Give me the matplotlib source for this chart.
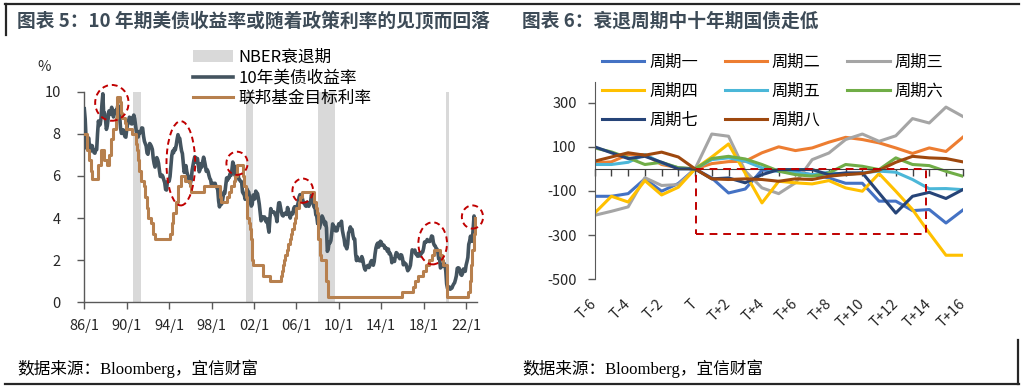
import numpy as np
import matplotlib.pyplot as plt
from matplotlib.patches import Ellipse, Rectangle, Patch
from matplotlib.lines import Line2D

plt.rcParams['font.family'] = ['Noto Sans CJK SC', 'DejaVu Sans']
plt.rcParams['axes.unicode_minus'] = False

# ---------------- left chart data ----------------
# 10y treasury yield, monthly, 1986/1 .. 2022/11
ust10 = [
    9.19, 8.70, 7.78, 7.30, 7.71, 7.80, 7.30, 7.17, 7.45, 7.43, 7.25, 7.11,
    7.08, 7.25, 7.25, 8.02, 8.61, 8.40, 8.45, 8.76, 9.42, 9.90, 8.86, 8.99,
    8.67, 8.21, 8.37, 8.72, 9.09, 8.92, 9.06, 9.26, 8.98, 8.80, 8.96, 9.11,
    9.09, 9.17, 9.36, 9.18, 8.86, 8.28, 8.02, 8.11, 8.19, 8.01, 7.87, 7.84,
    8.21, 8.47, 8.59, 8.79, 8.76, 8.48, 8.47, 8.75, 8.89, 8.72, 8.39, 8.08,
    8.09, 7.85, 8.11, 8.04, 8.07, 8.28, 8.27, 7.90, 7.65, 7.53, 7.42, 7.09,
    7.03, 7.34, 7.54, 7.48, 7.39, 7.26, 6.84, 6.59, 6.42, 6.59, 6.87, 6.77,
    6.60, 6.26, 5.98, 5.97, 6.04, 5.96, 5.81, 5.68, 5.36, 5.33, 5.72, 5.77,
    5.75, 5.97, 6.48, 6.97, 7.18, 7.10, 7.30, 7.24, 7.46, 7.74, 7.96, 7.81,
    7.78, 7.47, 7.20, 7.06, 6.63, 6.17, 6.28, 6.49, 6.20, 6.04, 5.93, 5.71,
    5.65, 5.81, 6.27, 6.51, 6.74, 6.91, 6.87, 6.64, 6.83, 6.53, 6.20, 6.30,
    6.58, 6.42, 6.69, 6.89, 6.71, 6.49, 6.22, 6.30, 6.21, 6.03, 5.88, 5.81,
    5.54, 5.57, 5.65, 5.64, 5.65, 5.50, 5.46, 5.34, 4.81, 4.53, 4.83, 4.65,
    4.72, 5.00, 5.23, 5.18, 5.54, 5.90, 5.79, 5.94, 5.92, 6.11, 6.03, 6.28,
    6.66, 6.52, 6.26, 5.99, 6.44, 6.10, 6.05, 5.83, 5.80, 5.74, 5.72, 5.24,
    5.16, 5.10, 4.89, 5.14, 5.39, 5.28, 5.24, 4.97, 4.73, 4.57, 4.65, 5.09,
    5.04, 4.91, 5.28, 5.21, 5.16, 4.93, 4.65, 4.26, 3.87, 3.94, 4.05, 4.03,
    4.05, 3.90, 3.81, 3.96, 3.57, 3.33, 3.98, 4.45, 4.27, 4.29, 4.30, 4.27,
    4.15, 4.08, 3.83, 4.35, 4.72, 4.73, 4.50, 4.28, 4.13, 4.10, 4.19, 4.23,
    4.22, 4.17, 4.50, 4.34, 4.14, 4.00, 4.18, 4.26, 4.20, 4.46, 4.54, 4.47,
    4.42, 4.57, 4.72, 4.99, 5.11, 5.11, 5.09, 4.88, 4.72, 4.73, 4.60, 4.56,
    4.76, 4.72, 4.56, 4.69, 4.75, 5.10, 5.00, 4.67, 4.52, 4.53, 4.15, 4.10,
    3.74, 3.74, 3.51, 3.68, 3.88, 4.10, 4.01, 3.89, 3.69, 3.81, 3.53, 2.42,
    2.52, 2.87, 2.82, 2.93, 3.29, 3.72, 3.56, 3.59, 3.40, 3.39, 3.40, 3.59,
    3.73, 3.69, 3.73, 3.85, 3.42, 3.20, 3.01, 2.70, 2.65, 2.54, 2.76, 3.29,
    3.39, 3.58, 3.41, 3.46, 3.17, 3.00, 3.00, 2.30, 1.98, 2.15, 2.01, 1.98,
    1.97, 1.97, 2.17, 2.05, 1.80, 1.62, 1.53, 1.68, 1.72, 1.75, 1.65, 1.72,
    1.91, 1.98, 1.96, 1.76, 1.93, 2.30, 2.58, 2.74, 2.81, 2.62, 2.72, 2.90,
    2.86, 2.71, 2.72, 2.71, 2.56, 2.60, 2.54, 2.42, 2.53, 2.30, 2.33, 2.21,
    1.88, 1.98, 2.04, 1.94, 2.20, 2.36, 2.32, 2.17, 2.17, 2.07, 2.26, 2.24,
    2.09, 1.78, 1.89, 1.81, 1.81, 1.64, 1.50, 1.56, 1.63, 1.76, 2.14, 2.49,
    2.43, 2.42, 2.48, 2.30, 2.30, 2.19, 2.32, 2.21, 2.20, 2.36, 2.35, 2.40,
    2.58, 2.86, 2.84, 2.87, 2.98, 2.91, 2.89, 2.89, 3.00, 3.15, 3.12, 2.83,
    2.71, 2.68, 2.57, 2.53, 2.40, 2.07, 2.06, 1.63, 1.70, 1.71, 1.81, 1.86,
    1.76, 1.50, 0.87, 0.66, 0.67, 0.73, 0.62, 0.65, 0.68, 0.79, 0.87, 0.93,
    1.08, 1.26, 1.61, 1.64, 1.62, 1.52, 1.32, 1.28, 1.37, 1.58, 1.56, 1.47,
    1.76, 1.93, 2.13, 2.75, 2.90, 3.14, 2.90, 2.90, 3.52, 4.10, 3.89,
]
ust_t = 1986 + np.arange(len(ust10)) / 12

# fed funds target: change dates (year fraction) and new level
ff_t = [1986.0, 1986.25, 1986.4, 1986.6, 1986.7, 1987.3, 1987.6, 1987.85, 1988.1,
        1988.3, 1988.5, 1988.7, 1988.95, 1989.1, 1989.4, 1989.5, 1989.6, 1989.8,
        1989.95, 1990.5, 1990.85, 1990.95, 1991.05, 1991.15, 1991.3, 1991.6,
        1991.75, 1991.9, 1991.97, 1992.3, 1992.5, 1992.7, 1994.1, 1994.25,
        1994.35, 1994.6, 1994.87, 1995.1, 1995.5, 1995.95, 1996.1, 1997.25,
        1998.75, 1998.8, 1998.87, 1999.5, 1999.65, 1999.87, 2000.1, 2000.2,
        2000.37, 2001.0, 2001.08, 2001.22, 2001.3, 2001.37, 2001.5, 2001.64,
        2001.7, 2001.78, 2001.85, 2001.95, 2002.85, 2003.5, 2004.5, 2004.62,
        2004.7, 2004.85, 2004.95, 2005.1, 2005.25, 2005.37, 2005.5, 2005.62,
        2005.75, 2005.87, 2006.0, 2006.25, 2006.37, 2006.5, 2007.7, 2007.83,
        2007.95, 2008.05, 2008.08, 2008.22, 2008.33, 2008.78, 2008.83, 2008.95,
        2015.96, 2016.96, 2017.2, 2017.46, 2017.96, 2018.22, 2018.46, 2018.74,
        2018.96, 2019.58, 2019.71, 2019.83, 2020.17, 2020.21, 2022.21, 2022.34,
        2022.46, 2022.57, 2022.73, 2022.84, 2022.88]
ff_rate = [8.0, 7.25, 6.75, 6.25, 5.875, 6.5, 7.25, 6.75, 6.5,
           7.0, 7.75, 8.25, 8.75, 9.75, 9.5, 9.0, 8.75, 8.5,
           8.25, 8.0, 7.5, 7.25, 6.75, 6.25, 5.75, 5.5,
           5.0, 4.5, 4.0, 3.75, 3.25, 3.0, 3.25, 3.75,
           4.25, 4.75, 5.5, 6.0, 5.75, 5.5, 5.25, 5.5,
           5.25, 5.0, 4.75, 5.0, 5.25, 5.5, 5.75, 6.0,
           6.5, 6.0, 5.5, 5.0, 4.5, 4.0, 3.75, 3.5,
           3.0, 2.5, 2.0, 1.75, 1.25, 1.0, 1.25, 1.5,
           1.75, 2.0, 2.25, 2.5, 2.75, 3.0, 3.25, 3.5,
           3.75, 4.0, 4.5, 4.75, 5.0, 5.25, 4.75, 4.5,
           4.25, 3.5, 3.0, 2.25, 2.0, 1.5, 1.0, 0.25,
           0.5, 0.75, 1.0, 1.25, 1.5, 1.75, 2.0, 2.25,
           2.5, 2.25, 2.0, 1.75, 1.25, 0.25, 0.5, 1.0,
           1.75, 2.5, 3.25, 4.0, 4.0]

recessions = [(1990.6, 1991.3), (2001.25, 2001.95), (2008.0, 2009.6), (2020.15, 2020.4)]

# dashed circles: centre year, centre value, width (yrs), height (%)
peaks_x = [1988.6, 1995.1, 2000.4, 2006.6, 2018.85, 2022.6]
peaks_y = [9.47, 6.6, 6.6, 5.3, 2.8, 4.05]
peaks_w = [3.15, 2.7, 2.0, 1.95, 2.7, 2.0]
peaks_h = [1.7, 4.0, 1.1, 1.15, 2.0, 1.1]

xtick_years = list(range(1986, 2023, 4))
xtick_labels = ['86/1', '90/1', '94/1', '98/1', '02/1', '06/1', '10/1', '14/1', '18/1', '22/1']

# ---------------- right chart data ----------------
periods = ['T-6', 'T-5', 'T-4', 'T-3', 'T-2', 'T-1', 'T', 'T+1', 'T+2', 'T+3', 'T+4',
           'T+5', 'T+6', 'T+7', 'T+8', 'T+9', 'T+10', 'T+11', 'T+12', 'T+13',
           'T+14', 'T+15', 'T+16']
cycle_names = ['周期一', '周期二', '周期三', '周期四', '周期五', '周期六', '周期七', '周期八']
c1 = [-124, -124, -112, -45, -101, -66, 0, -41, -109, -91, -5, -10, -14, -26, -41, -65, -65, -146, -146, -189, -184, -245, -187]
c2 = [27, 32, 65, 65, 20, 5, 0, 24, 33, 35, 73, 100, 83, 95, 121, 143, 133, 118, 95, 70, 95, 79, 143]
c3 = [-210, -192, -172, -40, -75, -71, 0, 158, 148, -10, -86, -112, -63, 42, 72, 133, 158, 125, 150, 228, 208, 280, 238]
c4 = [-200, -124, -150, -53, -118, -83, 0, 54, 113, -20, -154, -56, -63, -68, -53, -86, -101, -21, -101, -184, -290, -391, -391]
c5 = [20, 20, 30, 65, 27, 5, 0, 42, 50, 35, 5, -11, -18, -26, -15, -26, -18, -10, -15, -48, -90, -89, -94]
c6 = [95, 77, 50, 20, 30, 5, 0, 47, 57, 45, 20, -10, -26, -33, -18, 20, 12, -3, 50, 20, 15, -11, -33]
c7 = [100, 73, 47, 57, 30, 0, 0, -45, -41, -63, -26, -3, -3, -3, -26, -18, -18, -109, -200, -124, -106, -134, -94]
c8 = [35, 54, 73, 62, 76, 54, 0, -45, -48, -45, -48, -56, -45, -48, -33, -26, -21, -6, 30, 57, 50, 47, 32]
cycles = [c1, c2, c3, c4, c5, c6, c7, c8]
cycle_colors = ['#4472C4', '#ED7D31', '#A5A5A5', '#FFC000', '#4BB7D8', '#70AD47', '#264478', '#9E480E']

box_x = [6.05, 19.8]
box_y = [0, -295]

# ---------------- figure ----------------
W, H = 1024, 389
fig = plt.figure(figsize=(W / 100, H / 100), dpi=100)


def fx(px):
    return px / W


def fy(py):
    return 1 - py / H


title_col = '#3D4B57'
fig.text(fx(17), fy(21), '图表 5：10 年期美债收益率或随着政策利率的见顶而回落',
         fontsize=13.5, fontweight='bold', color=title_col, va='center', ha='left')
fig.text(fx(522), fy(21), '图表 6：衰退周期中十年期国债走低',
         fontsize=13.5, fontweight='bold', color=title_col, va='center', ha='left')
src_font = ['Liberation Serif', 'Noto Sans CJK SC']
fig.text(fx(17), fy(369), '数据来源：Bloomberg，宜信财富', fontsize=12,
         family=src_font, va='center', ha='left')
fig.text(fx(522), fy(369), '数据来源：Bloomberg，宜信财富', fontsize=12,
         family=src_font, va='center', ha='left')

# frame lines
frame = dict(color='#262626', lw=1.6, transform=fig.transFigure)
fig.add_artist(Line2D([fx(5), fx(1019)], [fy(3.5), fy(3.5)], **frame))
fig.add_artist(Line2D([fx(6), fx(6)], [fy(3.5), fy(35)], **frame))
fig.add_artist(Line2D([fx(5), fx(1019)], [fy(383.5), fy(383.5)], **frame))
fig.add_artist(Line2D([fx(1018), fx(1018)], [fy(340), fy(383.5)], **frame))

# ---------------- left chart ----------------
ax1 = fig.add_axes([fx(84.3), fy(302.3), fx(476.7 - 84.3), (302.3 - 91.7) / H])
for a, b in recessions:
    ax1.axvspan(a, b, color='#D9D9D9', lw=0, zorder=1)
ax1.plot(ust_t, ust10, color='#44545F', lw=2.6, zorder=3, solid_joinstyle='round')
ax1.step(ff_t, ff_rate, where='post', color='#B7804E', lw=2.2, zorder=4)
for cx, cy, w, h in zip(peaks_x, peaks_y, peaks_w, peaks_h):
    ax1.add_patch(Ellipse((cx, cy), w, h, fill=False, ec='#C00000', lw=1.4,
                          ls=(0, (3, 2)), zorder=5, clip_on=False))
ax1.set_xlim(1986, 2023.0)
ax1.set_ylim(0, 10)
ax1.set_xticks(xtick_years)
ax1.set_xticklabels(xtick_labels)
ax1.set_yticks([0, 2, 4, 6, 8, 10])
for s in ['top', 'right']:
    ax1.spines[s].set_visible(False)
for s in ['left', 'bottom']:
    ax1.spines[s].set_color('#595959')
    ax1.spines[s].set_linewidth(1.0)
ax1.tick_params(axis='x', length=5, width=1, color='#595959', labelsize=10.5, pad=7, labelcolor='#262626')
ax1.tick_params(axis='y', length=5, width=1, color='#595959', labelsize=10.5, pad=12, labelcolor='#262626')
fig.text(fx(44), fy(67), '%', fontsize=10.5, ha='center', va='center', color='#262626')

h1 = [Patch(facecolor='#D9D9D9', edgecolor='none'),
      Line2D([], [], color='#44545F', lw=2.6),
      Line2D([], [], color='#B7804E', lw=2.2)]
fig.legend(h1, ['NBER衰退期', '10年美债收益率', '联邦基金目标利率'], loc='upper left',
           bbox_to_anchor=(fx(193), fy(49)), frameon=False, fontsize=12,
           borderpad=0, borderaxespad=0, handlelength=2.4, handleheight=0.7,
           handletextpad=0.3, labelspacing=0.22)

# ---------------- right chart ----------------
ax2 = fig.add_axes([fx(594.7), fy(279.3), fx(962.7 - 594.7), (279.3 - 81.7) / H])
x = np.arange(len(periods))
lines = []
for vals, name, col in zip(cycles, cycle_names, cycle_colors):
    ln, = ax2.plot(x, vals, color=col, lw=2.2, label=name, solid_joinstyle='round')
    lines.append(ln)
ax2.add_patch(Rectangle((box_x[0], box_y[1]), box_x[1] - box_x[0], box_y[0] - box_y[1],
                        fill=False, ec='#C00000', lw=1.4, ls=(0, (4, 3)), zorder=6))
ax2.set_xlim(0, len(periods) - 1)
ax2.set_ylim(-500, 395)
ax2.set_yticks([300, 100, -100, -300, -500])
ax2.spines['top'].set_visible(False)
ax2.spines['right'].set_visible(False)
ax2.spines['left'].set_color('#595959')
ax2.spines['left'].set_bounds(-500, 395)
ax2.spines['bottom'].set_position(('data', 0))
ax2.spines['bottom'].set_color('#404040')
ax2.set_xticks(x)
ax2.set_xticklabels([])
ax2.tick_params(axis='x', length=5, width=1, color='#404040')
ax2.tick_params(axis='y', length=5, width=1, color='#595959', labelsize=10.5, pad=8, labelcolor='#262626')

sec = ax2.secondary_xaxis('bottom')
sec.set_xticks(x[::2])
sec.set_xticklabels(periods[::2], rotation=45, ha='right', va='center', rotation_mode='anchor')
sec.tick_params(length=0, labelsize=10.5, pad=16, labelcolor='#262626')
sec.spines['bottom'].set_visible(False)

# legend filled row-wise (3 per row)
order = [0, 3, 6, 1, 4, 7, 2, 5]
ax2.legend([lines[i] for i in order], [cycle_names[i] for i in order],
           loc='upper left', bbox_to_anchor=(fx(602), fy(54)), bbox_transform=fig.transFigure,
           ncol=3, frameon=False, fontsize=11.7, borderpad=0, borderaxespad=0,
           handlelength=2.6, handletextpad=0.3, labelspacing=0.72, columnspacing=1.65)

fig.savefig('out.png', dpi=100)
